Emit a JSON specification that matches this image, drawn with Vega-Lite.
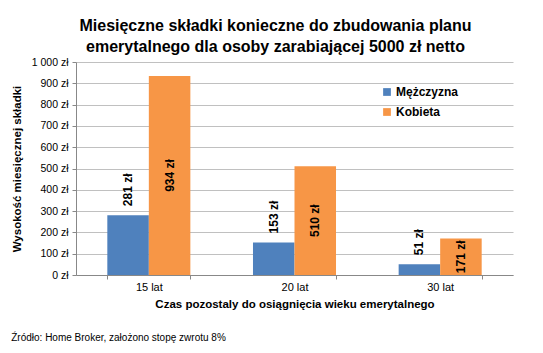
{
  "$schema": "https://vega.github.io/schema/vega-lite/v6.json",
  "padding": {"left": 11, "top": 18, "right": 5, "bottom": 10},
  "background": "white",
  "config": {"view": {"stroke": null}, "font": "Liberation Sans"},
  "title": {"text": "Źródło: Home Broker, założono stopę zwrotu 8%", "orient": "bottom", "anchor": "start", "frame": "bounds", "fontSize": 10, "fontWeight": "normal", "color": "black", "offset": 23, "dx": 0},
  "vconcat": [
    {
      "title": {"text": ["Miesięczne składki konieczne do zbudowania planu", "emerytalnego dla osoby zarabiającej 5000 zł netto"], "fontSize": 16, "fontWeight": "bold", "color": "black", "anchor": "middle", "dx": -19, "lineHeight": 21, "offset": 2},
      "width": 437,
      "height": 213,
      "data": {"values": [
        {"okres": "15 lat", "plec": "Mężczyzna", "kwota": 281, "etykieta": "281 zł"},
        {"okres": "15 lat", "plec": "Kobieta", "kwota": 934, "etykieta": "934 zł"},
        {"okres": "20 lat", "plec": "Mężczyzna", "kwota": 153, "etykieta": "153 zł"},
        {"okres": "20 lat", "plec": "Kobieta", "kwota": 510, "etykieta": "510 zł"},
        {"okres": "30 lat", "plec": "Mężczyzna", "kwota": 51, "etykieta": "51 zł"},
        {"okres": "30 lat", "plec": "Kobieta", "kwota": 171, "etykieta": "171 zł"}
      ]},
      "encoding": {
        "x": {"field": "okres", "type": "nominal", "sort": null,
          "scale": {"paddingInner": 0.43, "paddingOuter": 0.215},
          "axis": {"title": "Czas pozostaly do osiągnięcia wieku emerytalnego", "labelAngle": 0, "labelFontSize": 11, "labelColor": "black", "labelPadding": 2, "tickBand": "extent", "tickSize": 4, "tickColor": "#888888", "domainColor": "#888888", "titleFontSize": 11.5, "titleFontWeight": "bold", "titleColor": "black", "titlePadding": 6}},
        "xOffset": {"field": "plec", "type": "nominal", "sort": ["Mężczyzna", "Kobieta"]}
      },
      "layer": [
        {
          "mark": {"type": "bar"},
          "encoding": {
            "y": {"field": "kwota", "type": "quantitative", "scale": {"domain": [0, 1000]},
              "axis": {"title": "Wysokość miesięcznej składki", "values": [0,100,200,300,400,500,600,700,800,900,1000], "labelExpr": "datum.value == 1000 ? '1 000 zł' : datum.value + ' zł'", "labelFontSize": 10.5, "labelColor": "black", "labelPadding": 4, "tickSize": 4, "tickColor": "#888888", "domainColor": "#888888", "gridColor": "#C0C0C0", "titleFontSize": 11.5, "titleFontWeight": "bold", "titleColor": "black", "titlePadding": 9}},
            "color": {"field": "plec", "type": "nominal", "scale": {"domain": ["Mężczyzna", "Kobieta"], "range": ["#4F81BD", "#F79646"]},
              "legend": {"title": null, "orient": "none", "legendX": 305, "legendY": 24, "symbolType": "square", "symbolSize": 60, "symbolStrokeWidth": 0, "labelFontSize": 12, "labelFontWeight": "bold", "labelColor": "black", "rowPadding": 8, "labelOffset": 3}}
          }
        },
        {
          "transform": [{"filter": "datum.plec == 'Mężczyzna'"}],
          "mark": {"type": "text", "angle": 270, "align": "left", "baseline": "middle", "dx": 9, "fontSize": 12, "fontWeight": "bold", "color": "black"},
          "encoding": {
            "y": {"field": "kwota", "type": "quantitative", "scale": {"domain": [0, 1000]}, "axis": null},
            "text": {"field": "etykieta"}
          }
        },
        {
          "transform": [{"filter": "datum.plec == 'Kobieta'"}],
          "mark": {"type": "text", "angle": 270, "align": "center", "baseline": "middle", "fontSize": 12, "fontWeight": "bold", "color": "black"},
          "encoding": {
            "y": {"field": "kwota", "type": "quantitative", "scale": {"domain": [0, 2000]}, "axis": null},
            "text": {"field": "etykieta"}
          }
        }
      ],
      "resolve": {"scale": {"y": "independent"}}
    }
  ]
}
